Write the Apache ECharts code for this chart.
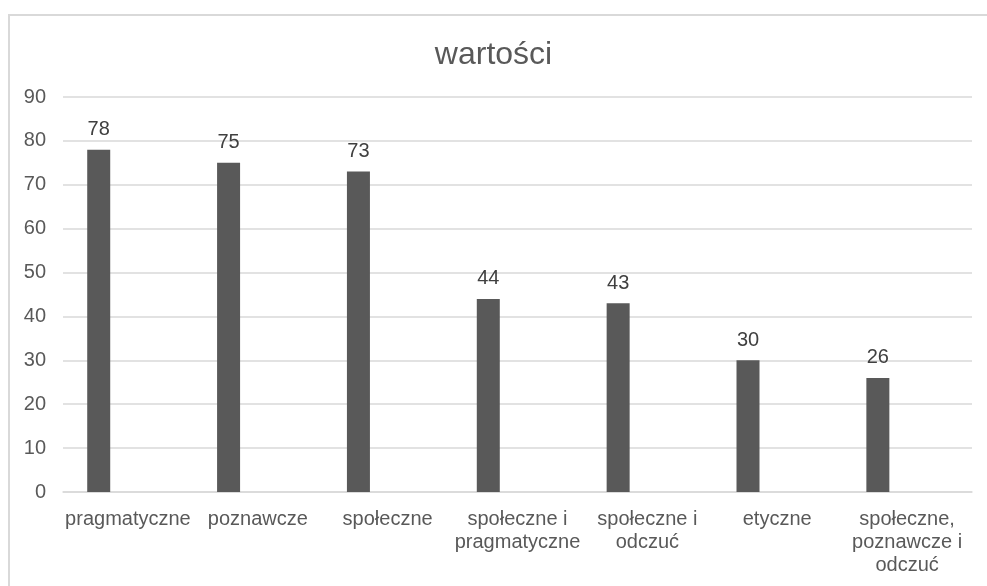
<!DOCTYPE html>
<html>
<head>
<meta charset="utf-8">
<script src="https://cdn.jsdelivr.net/npm/echarts@6/dist/echarts.min.js"></script>
<style>
  html, body { margin: 0; padding: 0; background: #fff; }
  .frame {
    position: absolute; left: 8px; top: 14px; width: 990px; height: 600px;
    border: 2px solid #d9d9d9; box-sizing: border-box;
  }
  #chart { position: absolute; left: 0; top: 0; width: 987px; height: 586px; }
</style>
</head>
<body>
<div class="frame"></div>
<div id="chart"></div>
<script>
const categories = [
  "pragmatyczne",
  "poznawcze",
  "społeczne",
  "społeczne i\npragmatyczne",
  "społeczne i\nodczuć",
  "etyczne",
  "społeczne,\npoznawcze i\nodczuć",
]
const wartosci = [78, 75, 73, 44, 43, 30, 26]
// the source sheet had two more (empty) series, which is why bars sit left of centre
const seria2 = []
const seria3 = []
const yTicks = { min: 0, max: 90, interval: 10 }

const TEXT = "#595959"
const FONT = "'Liberation Sans', Arial, sans-serif"

const chart = echarts.init(document.getElementById("chart"))

const barStyle = { color: "#595959" }

chart.setOption({
  animation: false,
  title: {
    text: "wartości",
    left: "center",
    top: 34,
    textStyle: { fontFamily: FONT, fontSize: 32, fontWeight: "normal", color: TEXT },
  },
  grid: { left: 63, right: 15, top: 97, bottom: 94 },
  xAxis: {
    type: "category",
    data: categories,
    axisLine: { show: true, lineStyle: { color: "#d9d9d9", width: 1.5 } },
    axisTick: { show: false },
    axisLabel: {
      interval: 0,
      margin: 16,
      color: TEXT,
      fontFamily: FONT,
      fontSize: 20,
      lineHeight: 23,
    },
  },
  yAxis: {
    type: "value",
    min: yTicks.min,
    max: yTicks.max,
    interval: yTicks.interval,
    axisLine: { show: false },
    axisTick: { show: false },
    splitLine: { lineStyle: { color: "#d9d9d9", width: 1.5 } },
    axisLabel: { margin: 17, color: TEXT, fontFamily: FONT, fontSize: 20 },
  },
  series: [
    {
      name: "Seria 1",
      type: "bar",
      data: wartosci,
      barWidth: 23,
      barGap: "27%",
      itemStyle: barStyle,
      label: {
        show: true,
        position: "top",
        distance: 10,
        color: "#404040",
        fontFamily: FONT,
        fontSize: 20,
      },
    },
    { name: "Seria 2", type: "bar", data: seria2, barWidth: 23, barGap: "27%", itemStyle: barStyle },
    { name: "Seria 3", type: "bar", data: seria3, barWidth: 23, barGap: "27%", itemStyle: barStyle },
  ],
})
</script>
</body>
</html>
